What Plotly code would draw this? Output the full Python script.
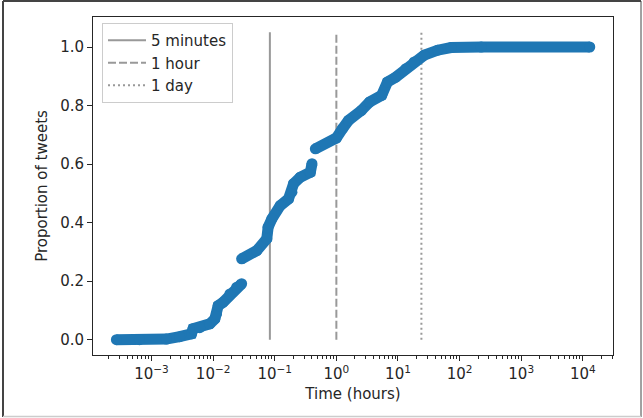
import plotly.graph_objects as go

# ECDF of time to first retweet (hours), in three runs separated by jumps
seg_a_hours = [2.69e-4, 6.37e-4, 1.74e-3, 2.86e-3, 4.45e-3, 4.72e-3, 6.07e-3, 8.83e-3,
               0.01066, 0.01135, 0.01208, 0.01456, 0.0187, 0.0241, 0.0290]
seg_a_prop = [0.0, 0.0, 0.002, 0.010, 0.020, 0.037, 0.041, 0.054,
              0.071, 0.088, 0.116, 0.128, 0.156, 0.179, 0.191]

seg_b_hours = [0.0290, 0.0510, 0.0743, 0.078, 0.0898, 0.1225, 0.167, 0.190, 0.202,
               0.259, 0.378, 0.402]
seg_b_prop = [0.276, 0.304, 0.345, 0.384, 0.413, 0.458, 0.481, 0.504, 0.533,
              0.555, 0.572, 0.601]

seg_c_hours = [0.456, 1.0, 1.257, 1.574, 2.54, 3.47, 5.44, 6.74, 9.21, 13.4, 18.3,
               26.7, 44.1, 72.6, 224, 12970]
seg_c_prop = [0.652, 0.689, 0.721, 0.749, 0.783, 0.812, 0.835, 0.880, 0.897, 0.926,
              0.949, 0.972, 0.989, 0.998, 1.0, 1.0]

vline_labels = ["5 minutes", "1 hour", "1 day"]
vline_hours = [5 / 60, 1, 24]
vline_dash = ["solid", "8px,3px", "2px,3px"]
vline_top = 1.05

x_tick_vals = [1e-3, 1e-2, 1e-1, 1e0, 1e1, 1e2, 1e3, 1e4]
x_tick_text = ["10<sup>−3</sup>", "10<sup>−2</sup>", "10<sup>−1</sup>", "10<sup>0</sup>",
               "10<sup>1</sup>", "10<sup>2</sup>", "10<sup>3</sup>", "10<sup>4</sup>"]
y_tick_vals = [0.0, 0.2, 0.4, 0.6, 0.8, 1.0]
y_tick_text = ["0.0", "0.2", "0.4", "0.6", "0.8", "1.0"]

minor_vals = [m * 10 ** e for e in range(-4, 5) for m in range(2, 10)]

BLUE = "#1f77b4"
GRAY = "rgba(128,128,128,0.8)"
FONT = "DejaVu Sans, Liberation Sans, sans-serif"
TXT = "#262626"

fig = go.Figure()

for lab, h, d in zip(vline_labels, vline_hours, vline_dash):
    fig.add_trace(go.Scatter(x=[h, h], y=[0, vline_top], mode="lines", name=lab,
                             line=dict(color=GRAY, width=2, dash=d)))

for xs, ys in [(seg_a_hours, seg_a_prop), (seg_b_hours, seg_b_prop), (seg_c_hours, seg_c_prop)]:
    fig.add_trace(go.Scatter(x=xs, y=ys, mode="lines+markers", showlegend=False,
                             line=dict(color=BLUE, width=11),
                             marker=dict(color=BLUE, size=11, line=dict(width=0))))

W, H = 643, 418
L, R, T, B = 93, 30, 17, 63
pw, ph = W - L - R, H - T - B

def px_x(p):
    return (p - L) / pw

def px_y(p):
    return (H - B - p) / ph

fig.update_layout(
    width=W, height=H,
    margin=dict(l=L, r=R, t=T, b=B, autoexpand=False),
    paper_bgcolor="white", plot_bgcolor="white",
    font=dict(family=FONT, size=15, color=TXT),
    showlegend=True,
    legend=dict(x=px_x(102), y=px_y(23), xanchor="left", yanchor="top",
                bgcolor="rgba(255,255,255,0.8)", bordercolor="#cccccc", borderwidth=1,
                font=dict(size=15, color=TXT), itemwidth=38,
                tracegroupgap=0),
    xaxis=dict(type="log", range=[-3.95, 4.49], tickmode="array",
               tickvals=x_tick_vals, ticktext=x_tick_text,
               ticks="outside", ticklen=5, tickwidth=1, tickcolor=TXT,
               showline=True, linecolor=TXT, linewidth=1, mirror=True,
               showgrid=False, zeroline=False,
               tickfont=dict(size=15),
               minor=dict(tickmode="array", tickvals=minor_vals, ticks="outside",
                          ticklen=3, tickwidth=1, tickcolor=TXT, showgrid=False),
               title=dict(text="Time (hours)", standoff=6, font=dict(size=15))),
    yaxis=dict(range=[-0.0525, 1.1025], tickmode="array",
               tickvals=y_tick_vals, ticktext=y_tick_text,
               ticks="outside", ticklen=5, tickwidth=1, tickcolor=TXT,
               showline=True, linecolor=TXT, linewidth=1, mirror=True,
               showgrid=False, zeroline=False,
               tickfont=dict(size=15),
               title=dict(text="Proportion of tweets", standoff=8, font=dict(size=15))),
    shapes=[
        dict(type="line", xref="paper", yref="paper", x0=px_x(3), x1=px_x(3),
             y0=px_y(417), y1=px_y(1), line=dict(color="#444444", width=2)),
        dict(type="line", xref="paper", yref="paper", x0=px_x(3), x1=px_x(641),
             y0=px_y(1), y1=px_y(1), line=dict(color="#444444", width=2)),
        dict(type="line", xref="paper", yref="paper", x0=px_x(641), x1=px_x(641),
             y0=px_y(417), y1=px_y(1), line=dict(color="#444444", width=1)),
        dict(type="line", xref="paper", yref="paper", x0=px_x(3), x1=px_x(641),
             y0=px_y(416.5), y1=px_y(416.5), line=dict(color="#cccccc", width=1.5)),
    ],
)

fig.write_html("out.html", config={"displayModeBar": False},
               post_script="document.body.style.margin='0';document.body.style.overflow='hidden';")
